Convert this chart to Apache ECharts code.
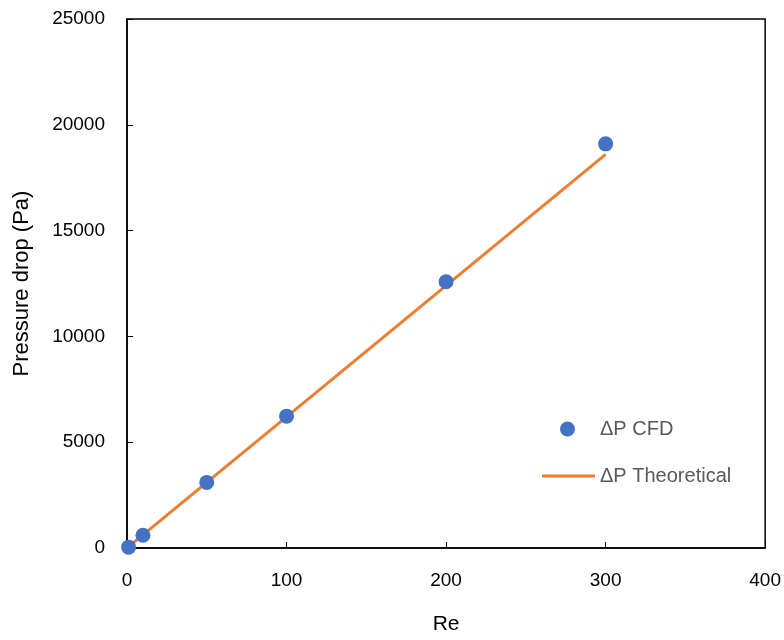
<!DOCTYPE html>
<html><head><meta charset="utf-8">
<script src="https://cdn.jsdelivr.net/npm/echarts@6/dist/echarts.min.js"></script>
<style>html,body{margin:0;padding:0;background:#fff}#c{width:784px;height:640px}</style>
</head><body><div id="c"></div>
<script>
const reValues = [1, 10, 50, 100, 200, 300];
const cfdValues = [40, 600, 3100, 6230, 12580, 19100];
const theoreticalValues = [62, 620, 3100, 6200, 12400, 18600];
const xTicks = [0, 100, 200, 300, 400];
const yTicks = [0, 5000, 10000, 15000, 20000, 25000];

const font = 'Liberation Sans, Arial, sans-serif';
const chart = echarts.init(document.getElementById('c'));
chart.setOption({
  animation: false,
  grid: {left: 127, right: 17, top: 19, bottom: 88, show: true, borderColor: '#000', borderWidth: 1.5},
  legend: [{
    left: 555, top: 414, itemWidth: 15, itemHeight: 15,
    textStyle: {color: '#595959', fontSize: 20, fontFamily: font, padding: [0, 0, 0, 20]},
    data: [{name: 'ΔP CFD', icon: 'circle'}]
  }, {
    left: 537, top: 461, itemWidth: 53, itemHeight: 3,
    textStyle: {color: '#595959', fontSize: 20, fontFamily: font},
    data: [{name: 'ΔP Theoretical', icon: 'rect'}]
  }],
  xAxis: {
    type: 'value', min: xTicks[0], max: xTicks[xTicks.length-1], interval: 100,
    name: 'Re', nameLocation: 'middle', nameGap: 66,
    nameTextStyle: {fontSize: 21, color: '#000', fontFamily: font},
    axisLine: {lineStyle: {color: '#000', width: 1.5}},
    axisTick: {inside: true, length: 6, lineStyle: {color: '#000'}},
    axisLabel: {fontSize: 19, color: '#000', margin: 23, fontFamily: font},
    splitLine: {show: false}
  },
  yAxis: {
    type: 'value', min: yTicks[0], max: yTicks[yTicks.length-1], interval: 5000,
    name: 'Pressure drop (Pa)', nameLocation: 'middle', nameGap: 94,
    nameTextStyle: {fontSize: 22, color: '#000', fontFamily: font},
    axisLine: {lineStyle: {color: '#000', width: 1.5}},
    axisTick: {inside: true, length: 6, lineStyle: {color: '#000'}},
    axisLabel: {fontSize: 19, color: '#000', margin: 22, fontFamily: font, formatter: v => String(v)},
    splitLine: {show: false}
  },
  series: [
    {name: 'ΔP Theoretical', type: 'line', symbol: 'none', z: 2,
     lineStyle: {color: '#ED7D31', width: 3}, itemStyle: {color: '#ED7D31'},
     data: reValues.map((r, i) => [r, theoreticalValues[i]])},
    {name: 'ΔP CFD', type: 'scatter', symbolSize: 15, z: 3,
     itemStyle: {color: '#4472C4', opacity: 1},
     data: reValues.map((r, i) => [r, cfdValues[i]])}
  ]
});
</script></body></html>
